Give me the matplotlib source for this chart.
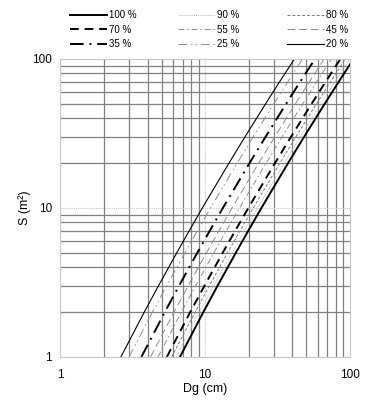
import matplotlib
matplotlib.use("Agg")
import matplotlib.pyplot as plt
from matplotlib.ticker import NullFormatter, FuncFormatter

plt.rcParams['font.family'] = ['Liberation Sans', 'DejaVu Sans']

# S values (m2) at which the curves were read
s_vals = [1, 2, 3, 5, 7, 10, 20, 30, 50, 70, 100]

# Dg (cm) for each percentage curve
dg_100 = [6.70, 9.72, 12.18, 16.29, 19.82, 24.49, 37.40, 48.24, 66.96, 83.5, 105.9]
dg_90 = [6.30, 9.14, 11.45, 15.32, 18.64, 23.03, 35.17, 45.36, 62.96, 78.5, 99.6]
dg_80 = [5.88, 8.53, 10.69, 14.30, 17.40, 21.50, 32.83, 42.35, 58.78, 73.3, 93.0]
dg_70 = [5.44, 7.89, 9.89, 13.23, 16.10, 19.89, 30.37, 39.18, 54.38, 67.8, 86.0]
dg_55 = [4.73, 6.86, 8.59, 11.49, 13.98, 17.28, 26.39, 34.03, 47.24, 58.9, 74.7]
dg_45 = [4.20, 6.10, 7.64, 10.22, 12.43, 15.36, 23.45, 30.25, 41.99, 52.4, 66.4]
dg_35 = [3.63, 5.27, 6.60, 8.83, 10.74, 13.27, 20.26, 26.14, 36.28, 45.2, 57.4]
dg_25 = [2.98, 4.33, 5.42, 7.25, 8.82, 10.90, 16.65, 21.47, 29.80, 37.2, 47.1]
dg_20 = [2.62, 3.80, 4.76, 6.37, 7.75, 9.57, 14.62, 18.85, 26.17, 32.6, 41.4]

thick = 1.4
thin = 0.7

# three legend columns, top to bottom
columns = [
    [("100 %", dg_100, dict(color="black", lw=thick, ls="-")),
     ("70 %", dg_70, dict(color="black", lw=thick, ls=(0, (4.5, 3)))),
     ("35 %", dg_35, dict(color="black", lw=thick, ls=(0, (7, 3, 1, 3))))],
    [("90 %", dg_90, dict(color="#b8b8b8", lw=thin, ls=(0, (1, 1)))),
     ("55 %", dg_55, dict(color="#8c8c8c", lw=thin, ls=(0, (6, 3, 1.5, 3)))),
     ("25 %", dg_25, dict(color="#8c8c8c", lw=thin, ls=(0, (9, 4, 1.5, 3, 1.5, 4))))],
    [("80 %", dg_80, dict(color="#7a7a7a", lw=thin, ls=(0, (3, 2)))),
     ("45 %", dg_45, dict(color="#8c8c8c", lw=thin, ls=(0, (8, 4)))),
     ("20 %", dg_20, dict(color="black", lw=0.8, ls="-"))],
]
col_x = [70, 178, 287]  # legend column left edges, px

fig = plt.figure(figsize=(3.82, 4.01), dpi=100)
ax = fig.add_axes([0.158, 0.11, 0.758, 0.743])

col_handles = []
for col in columns:
    hs = []
    for label, dg, style in col:
        line, = ax.plot(dg, s_vals, label=label, **style)
        hs.append(line)
    col_handles.append(hs)

ax.set_xscale("log")
ax.set_yscale("log")
ax.set_xlim(1, 100)
ax.set_ylim(1, 100)

ax.grid(True, which="minor", color="#808080", lw=0.9, ls="-")
ax.grid(True, which="major", color="#c8c8c8", lw=0.8, ls=(0, (1, 1)))
ax.set_axisbelow(True)
for sp in ax.spines.values():
    sp.set_color("#c8c8c8")
    sp.set_linestyle((0, (1, 1)))
    sp.set_linewidth(0.8)

ax.tick_params(which="both", length=0, labelsize=8.5)
ax.tick_params(axis="x", pad=9)
ax.tick_params(axis="y", pad=6)
ax.xaxis.set_minor_formatter(NullFormatter())
ax.yaxis.set_minor_formatter(NullFormatter())
ax.xaxis.set_major_formatter(FuncFormatter(lambda v, p: f"{v:g}"))
ax.yaxis.set_major_formatter(FuncFormatter(lambda v, p: f"{v:g}"))

ax.set_xlabel("Dg (cm)", fontsize=9, labelpad=1)
ax.set_ylabel("S (m²)", fontsize=9, labelpad=1)

for x0, hs in zip(col_x, col_handles):
    fig.legend(handles=hs, loc="upper left", bbox_to_anchor=(x0 / 382, 1 - 10.5 / 401),
               frameon=False, fontsize=7, handlelength=3.8, handletextpad=0.2,
               labelspacing=0.45, borderpad=0, borderaxespad=0)

fig.savefig("out.png", dpi=100)
